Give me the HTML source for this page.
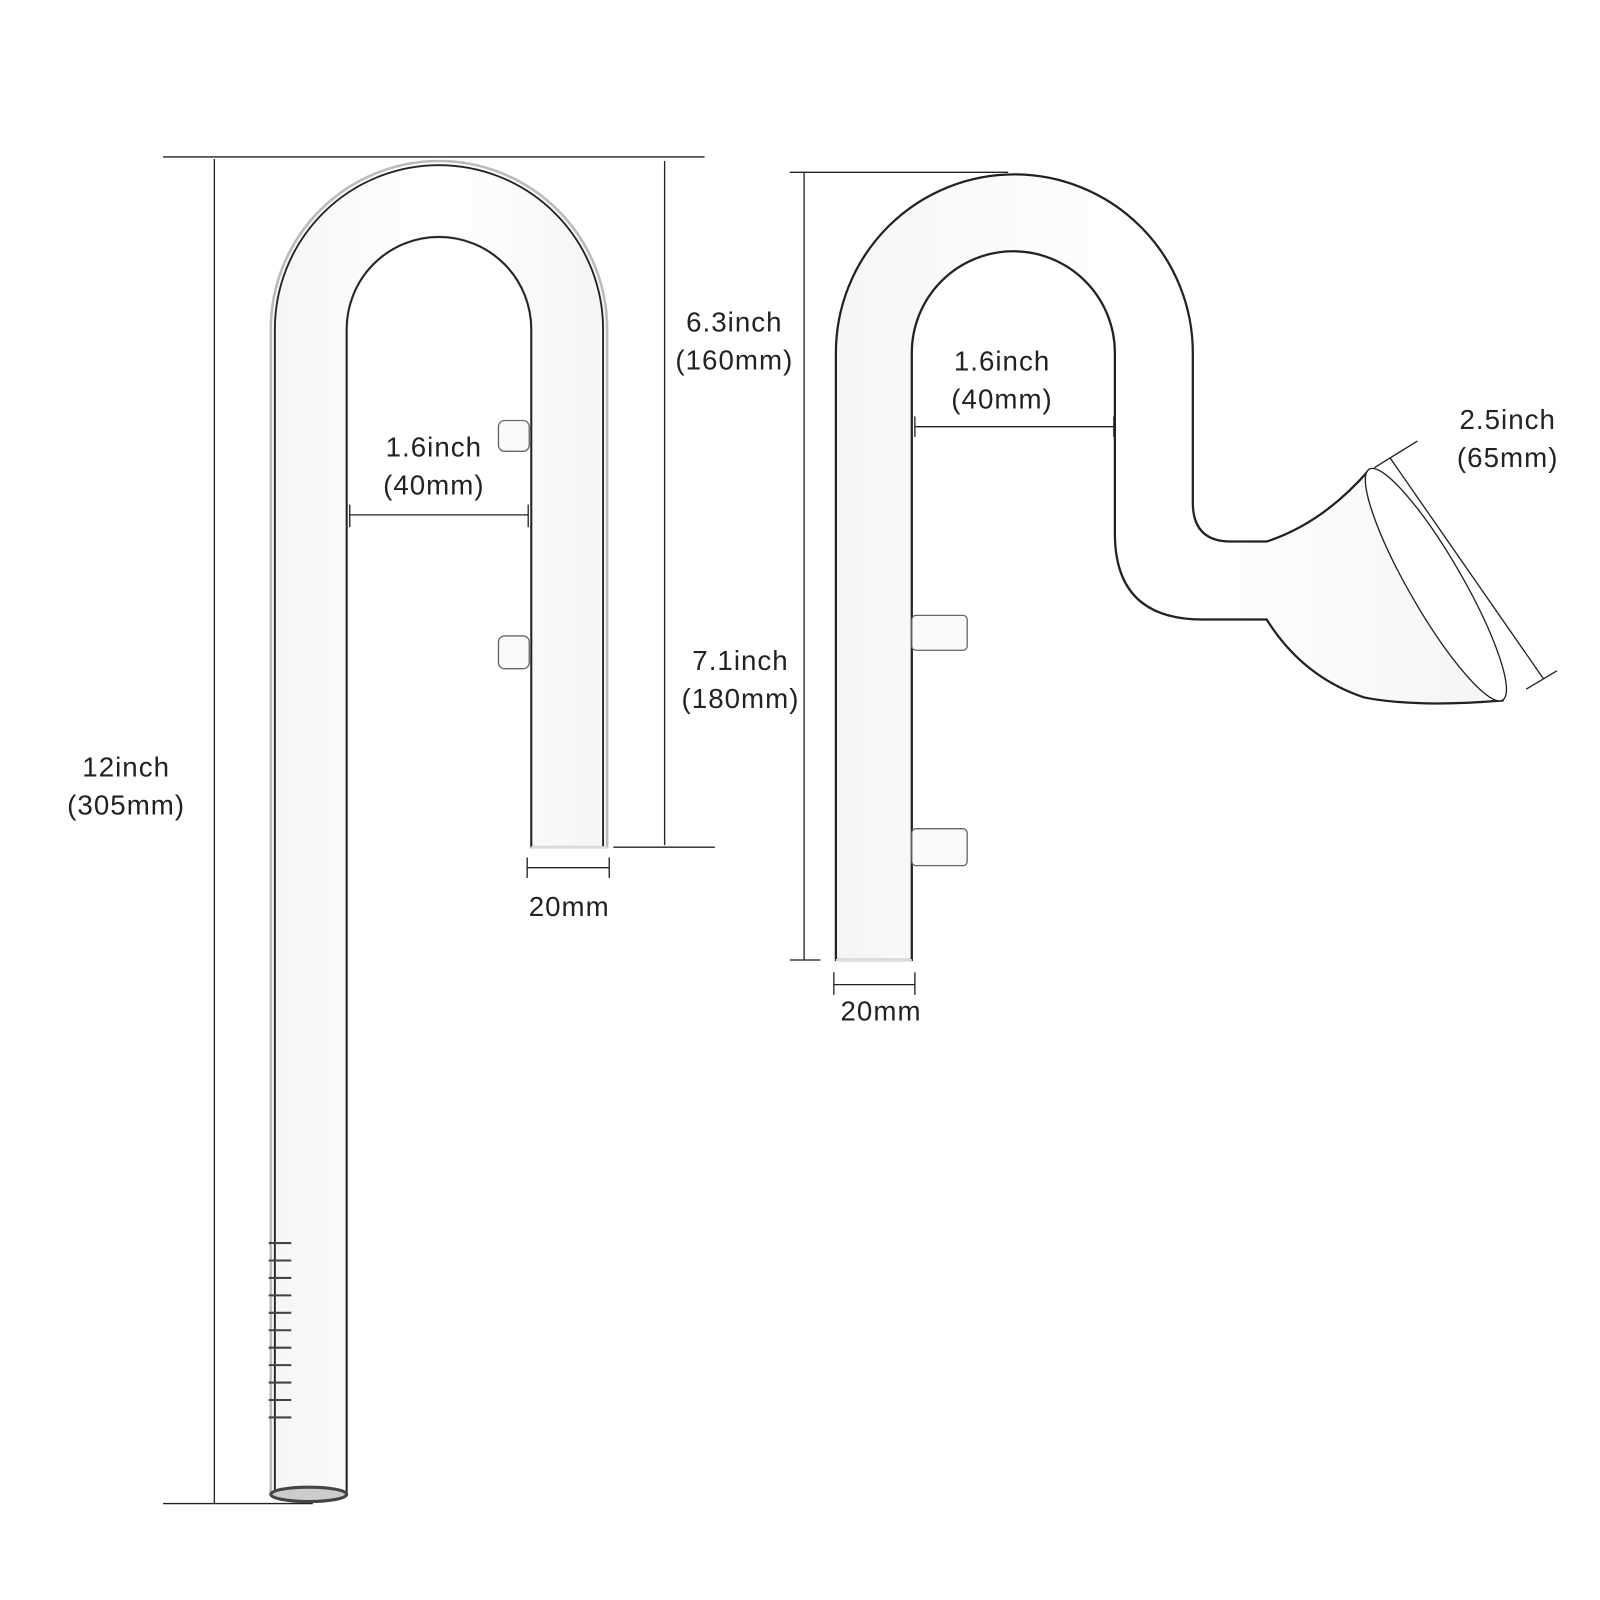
<!DOCTYPE html>
<html><head><style>html,body{margin:0;padding:0;background:#fff}svg{display:block}text{font-family:"Liberation Sans",sans-serif;font-size:27px;fill:#222;text-anchor:middle;dominant-baseline:middle;letter-spacing:1px}</style></head>
<body>
<svg width="1600" height="1600" viewBox="0 0 1560 1560" xmlns="http://www.w3.org/2000/svg">
<defs>
<linearGradient id="g" x1="0" x2="1"><stop offset="0" stop-color="#f6f6f6"/><stop offset="0.5" stop-color="#fff"/><stop offset="1" stop-color="#f5f5f5"/></linearGradient>
</defs>
<g stroke="#222" stroke-width="1.3" fill="none">
<line x1="159" y1="153" x2="687" y2="153"/>
<line x1="209" y1="155" x2="209" y2="1466"/>
<line x1="159" y1="1466" x2="305" y2="1466"/>
<line x1="648" y1="157" x2="648" y2="824"/>
<line x1="598" y1="826" x2="697" y2="826"/>
<line x1="514" y1="846" x2="594" y2="846"/><line x1="514" y1="836" x2="514" y2="856"/><line x1="594" y1="836" x2="594" y2="856"/>
<line x1="341" y1="502" x2="515" y2="502"/><line x1="341" y1="492" x2="341" y2="514"/><line x1="515" y1="492" x2="515" y2="514"/>
<line x1="770" y1="168" x2="983" y2="168"/>
<line x1="784" y1="168" x2="784" y2="936"/>
<line x1="770" y1="936" x2="800" y2="936"/>
<line x1="892" y1="416" x2="1086" y2="416"/><line x1="892" y1="406" x2="892" y2="426"/><line x1="1086" y1="406" x2="1086" y2="426"/>
<line x1="813" y1="960" x2="892" y2="960"/><line x1="813" y1="948" x2="813" y2="970"/><line x1="892" y1="948" x2="892" y2="970"/>
<line x1="1355" y1="446" x2="1505" y2="662"/><line x1="1340" y1="456" x2="1382" y2="430"/><line x1="1488" y1="672" x2="1518" y2="654"/>
</g>
<path d="M264,1455 L264,321 A164,164 0 0 1 592,321 L592,826 L518,826 L518,321 A90,90 0 0 0 338,321 L338,1455 Z" fill="url(#g)" stroke="#bbb" stroke-width="2.5"/>
<path d="M268,1455 L268,321 A160,160 0 0 1 588,321 L588,826 M518,826 L518,321 A90,90 0 0 0 338,321 L338,1455" fill="none" stroke="#222" stroke-width="1.8"/>
<ellipse cx="301" cy="1457" rx="37" ry="7" fill="#ccc" stroke="#444" stroke-width="3"/>
<line x1="518" y1="826" x2="592" y2="826" stroke="#ddd" stroke-width="2"/>
<g fill="#fafafa" stroke="#666" stroke-width="1.3">
<rect x="486" y="410" width="30" height="30" rx="6"/><rect x="486" y="620" width="30" height="32" rx="6"/>
</g>
<g stroke="#444" stroke-width="2">
<path d="M262,1212 l22,0 M262,1229 l22,0 M262,1246 l22,0 M262,1263 l22,0 M262,1280 l22,0 M262,1297 l22,0 M262,1314 l22,0 M262,1331 l22,0 M262,1348 l22,0 M262,1365 l22,0 M262,1382 l22,0"/>
</g>
<path d="M815,936 L815,344 A174,174 0 0 1 1163,344 L1163,490 Q1163,528 1200,528 L1235,528 Q1290,510 1335,458 Q1420,520 1465,683 Q1380,690 1330,680 Q1270,660 1235,604 L1172,604 Q1087,604 1087,520 L1087,344 A99,99 0 0 0 889,344 L889,936 Z" fill="url(#g)" stroke="#222" stroke-width="2.2"/>
<ellipse cx="1400" cy="570" rx="130" ry="26" transform="rotate(60 1400 570)" fill="#fff" stroke="#222" stroke-width="1.3"/>
<line x1="815" y1="936" x2="889" y2="936" stroke="#ddd" stroke-width="2"/>
<g fill="#fafafa" stroke="#666" stroke-width="1.3">
<rect x="889" y="600" width="54" height="34" rx="4"/><rect x="889" y="808" width="54" height="36" rx="4"/>
</g>
<text x="716" y="316">6.3inch</text><text x="716" y="353">(160mm)</text>
<text x="423" y="438">1.6inch</text><text x="423" y="475">(40mm)</text>
<text x="123" y="750">12inch</text><text x="123" y="787">(305mm)</text>
<text x="555" y="886">20mm</text>
<text x="977" y="354">1.6inch</text><text x="977" y="391">(40mm)</text>
<text x="722" y="646">7.1inch</text><text x="722" y="683">(180mm)</text>
<text x="859" y="988">20mm</text>
<text x="1470" y="411">2.5inch</text><text x="1470" y="448">(65mm)</text>
</svg>
</body></html>
